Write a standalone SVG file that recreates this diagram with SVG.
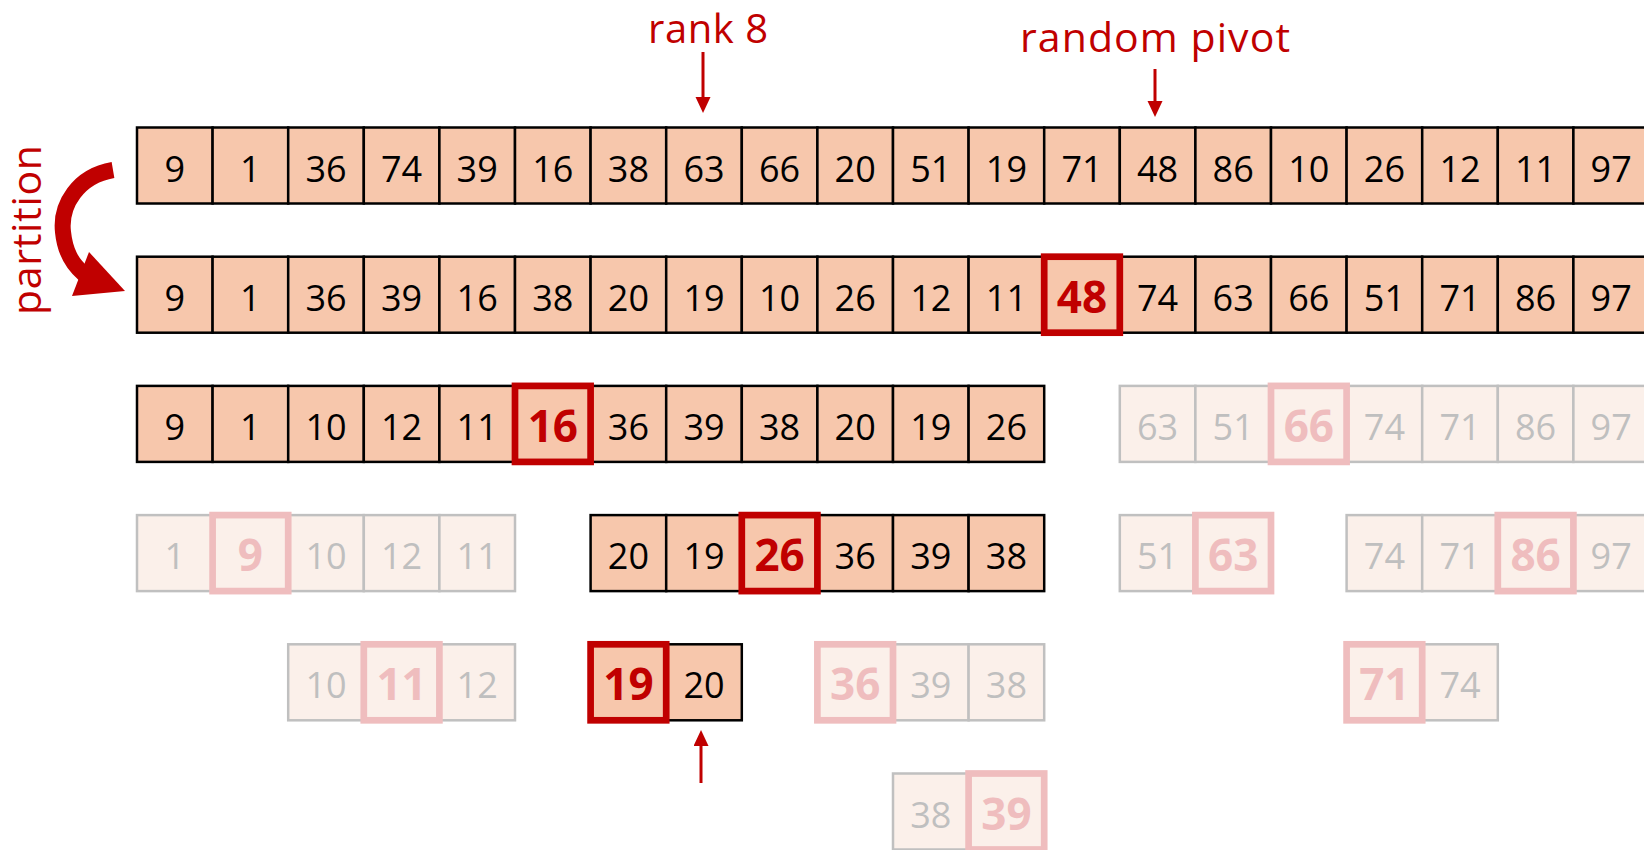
<svg xmlns="http://www.w3.org/2000/svg" width="1644" height="850" viewBox="0 0 1644 850">
<style>
.c{fill:#F7C7AC;stroke:#000;stroke-width:2.5}
.t{font-family:"Open Sans","Noto Sans",sans-serif;font-size:36px;fill:#000;text-anchor:middle}
.p{fill:none;stroke:#C00000;stroke-width:6.7}
.pt{font-family:"Open Sans","Noto Sans",sans-serif;font-size:44px;font-weight:bold;fill:#C00000;text-anchor:middle}
.fc{fill:#FBF0EA;stroke:#C0C0C0;stroke-width:2.5}
.ft{font-family:"Open Sans","Noto Sans",sans-serif;font-size:36px;fill:#BFBFBF;text-anchor:middle}
.fp{fill:none;stroke:#EFBDBE;stroke-width:6.7}
.fpt{font-family:"Open Sans","Noto Sans",sans-serif;font-size:44px;font-weight:bold;fill:#EFBDBE;text-anchor:middle}
.lab{font-family:"Open Sans","Noto Sans",sans-serif;font-size:41px;fill:#C00000}
.arr{stroke:#C00000;stroke-width:3;fill:none}
</style>
<defs>
<marker id="ah" markerWidth="16" markerHeight="16" refX="0" refY="7.5" orient="auto" markerUnits="userSpaceOnUse"><path d="M0,0 L16,7.5 L0,15 z" fill="#C00000"/></marker>
</defs>

<g id="labels">
<text class="lab" x="708" y="43" text-anchor="middle" textLength="120" lengthAdjust="spacing" style="font-size:40px">rank 8</text>
<text class="lab" x="1155" y="52" text-anchor="middle" textLength="270" lengthAdjust="spacing">random pivot</text>
<text class="lab" transform="translate(41,230) rotate(-90)" text-anchor="middle" textLength="170" lengthAdjust="spacing">partition</text>
</g>

<g id="connectors">
<line class="arr" x1="703" y1="52" x2="703" y2="97" marker-end="url(#ah)"/>
<line class="arr" x1="1155" y1="69" x2="1155" y2="101" marker-end="url(#ah)"/>
<line class="arr" x1="701" y1="783" x2="701" y2="746" marker-end="url(#ah)"/>
<path d="M113,170 C78,176 60,205 63,232 C65,252 72,264 84,274" fill="none" stroke="#C00000" stroke-width="16"/>
<polygon points="89,252 125,291 72,296" fill="#C00000"/>
</g>

<g id="row1">
<rect class="c" x="137" y="127.5" width="75.6" height="76"/><text class="t" x="174.8" y="181.5">9</text>
<rect class="c" x="212.6" y="127.5" width="75.6" height="76"/><text class="t" x="250.4" y="181.5">1</text>
<rect class="c" x="288.2" y="127.5" width="75.6" height="76"/><text class="t" x="326" y="181.5">36</text>
<rect class="c" x="363.8" y="127.5" width="75.6" height="76"/><text class="t" x="401.6" y="181.5">74</text>
<rect class="c" x="439.4" y="127.5" width="75.6" height="76"/><text class="t" x="477.2" y="181.5">39</text>
<rect class="c" x="515" y="127.5" width="75.6" height="76"/><text class="t" x="552.8" y="181.5">16</text>
<rect class="c" x="590.6" y="127.5" width="75.6" height="76"/><text class="t" x="628.4" y="181.5">38</text>
<rect class="c" x="666.2" y="127.5" width="75.6" height="76"/><text class="t" x="704" y="181.5">63</text>
<rect class="c" x="741.8" y="127.5" width="75.6" height="76"/><text class="t" x="779.6" y="181.5">66</text>
<rect class="c" x="817.4" y="127.5" width="75.6" height="76"/><text class="t" x="855.2" y="181.5">20</text>
<rect class="c" x="893" y="127.5" width="75.6" height="76"/><text class="t" x="930.8" y="181.5">51</text>
<rect class="c" x="968.6" y="127.5" width="75.6" height="76"/><text class="t" x="1006.4" y="181.5">19</text>
<rect class="c" x="1044.2" y="127.5" width="75.6" height="76"/><text class="t" x="1082" y="181.5">71</text>
<rect class="c" x="1119.8" y="127.5" width="75.6" height="76"/><text class="t" x="1157.6" y="181.5">48</text>
<rect class="c" x="1195.4" y="127.5" width="75.6" height="76"/><text class="t" x="1233.2" y="181.5">86</text>
<rect class="c" x="1271" y="127.5" width="75.6" height="76"/><text class="t" x="1308.8" y="181.5">10</text>
<rect class="c" x="1346.6" y="127.5" width="75.6" height="76"/><text class="t" x="1384.4" y="181.5">26</text>
<rect class="c" x="1422.2" y="127.5" width="75.6" height="76"/><text class="t" x="1460" y="181.5">12</text>
<rect class="c" x="1497.8" y="127.5" width="75.6" height="76"/><text class="t" x="1535.6" y="181.5">11</text>
<rect class="c" x="1573.4" y="127.5" width="75.6" height="76"/><text class="t" x="1611.2" y="181.5">97</text>
</g>

<g id="row2">
<rect class="c" x="137" y="256.7" width="75.6" height="76"/><text class="t" x="174.8" y="310.7">9</text>
<rect class="c" x="212.6" y="256.7" width="75.6" height="76"/><text class="t" x="250.4" y="310.7">1</text>
<rect class="c" x="288.2" y="256.7" width="75.6" height="76"/><text class="t" x="326" y="310.7">36</text>
<rect class="c" x="363.8" y="256.7" width="75.6" height="76"/><text class="t" x="401.6" y="310.7">39</text>
<rect class="c" x="439.4" y="256.7" width="75.6" height="76"/><text class="t" x="477.2" y="310.7">16</text>
<rect class="c" x="515" y="256.7" width="75.6" height="76"/><text class="t" x="552.8" y="310.7">38</text>
<rect class="c" x="590.6" y="256.7" width="75.6" height="76"/><text class="t" x="628.4" y="310.7">20</text>
<rect class="c" x="666.2" y="256.7" width="75.6" height="76"/><text class="t" x="704" y="310.7">19</text>
<rect class="c" x="741.8" y="256.7" width="75.6" height="76"/><text class="t" x="779.6" y="310.7">10</text>
<rect class="c" x="817.4" y="256.7" width="75.6" height="76"/><text class="t" x="855.2" y="310.7">26</text>
<rect class="c" x="893" y="256.7" width="75.6" height="76"/><text class="t" x="930.8" y="310.7">12</text>
<rect class="c" x="968.6" y="256.7" width="75.6" height="76"/><text class="t" x="1006.4" y="310.7">11</text>
<rect class="c" x="1044.2" y="256.7" width="75.6" height="76"/>
<rect class="c" x="1119.8" y="256.7" width="75.6" height="76"/><text class="t" x="1157.6" y="310.7">74</text>
<rect class="c" x="1195.4" y="256.7" width="75.6" height="76"/><text class="t" x="1233.2" y="310.7">63</text>
<rect class="c" x="1271" y="256.7" width="75.6" height="76"/><text class="t" x="1308.8" y="310.7">66</text>
<rect class="c" x="1346.6" y="256.7" width="75.6" height="76"/><text class="t" x="1384.4" y="310.7">51</text>
<rect class="c" x="1422.2" y="256.7" width="75.6" height="76"/><text class="t" x="1460" y="310.7">71</text>
<rect class="c" x="1497.8" y="256.7" width="75.6" height="76"/><text class="t" x="1535.6" y="310.7">86</text>
<rect class="c" x="1573.4" y="256.7" width="75.6" height="76"/><text class="t" x="1611.2" y="310.7">97</text>
<rect class="p" x="1044.2" y="256.7" width="75.6" height="76"/><text class="pt" x="1082" y="312.7">48</text>
</g>

<g id="row3-left">
<rect class="c" x="137" y="385.9" width="75.6" height="76"/><text class="t" x="174.8" y="439.9">9</text>
<rect class="c" x="212.6" y="385.9" width="75.6" height="76"/><text class="t" x="250.4" y="439.9">1</text>
<rect class="c" x="288.2" y="385.9" width="75.6" height="76"/><text class="t" x="326" y="439.9">10</text>
<rect class="c" x="363.8" y="385.9" width="75.6" height="76"/><text class="t" x="401.6" y="439.9">12</text>
<rect class="c" x="439.4" y="385.9" width="75.6" height="76"/><text class="t" x="477.2" y="439.9">11</text>
<rect class="c" x="515" y="385.9" width="75.6" height="76"/>
<rect class="c" x="590.6" y="385.9" width="75.6" height="76"/><text class="t" x="628.4" y="439.9">36</text>
<rect class="c" x="666.2" y="385.9" width="75.6" height="76"/><text class="t" x="704" y="439.9">39</text>
<rect class="c" x="741.8" y="385.9" width="75.6" height="76"/><text class="t" x="779.6" y="439.9">38</text>
<rect class="c" x="817.4" y="385.9" width="75.6" height="76"/><text class="t" x="855.2" y="439.9">20</text>
<rect class="c" x="893" y="385.9" width="75.6" height="76"/><text class="t" x="930.8" y="439.9">19</text>
<rect class="c" x="968.6" y="385.9" width="75.6" height="76"/><text class="t" x="1006.4" y="439.9">26</text>
<rect class="p" x="515" y="385.9" width="75.6" height="76"/><text class="pt" x="552.8" y="441.9">16</text>
</g>

<g id="row3-right">
<rect class="fc" x="1119.8" y="385.9" width="75.6" height="76"/><text class="ft" x="1157.6" y="439.9">63</text>
<rect class="fc" x="1195.4" y="385.9" width="75.6" height="76"/><text class="ft" x="1233.2" y="439.9">51</text>
<rect class="fc" x="1271" y="385.9" width="75.6" height="76"/>
<rect class="fc" x="1346.6" y="385.9" width="75.6" height="76"/><text class="ft" x="1384.4" y="439.9">74</text>
<rect class="fc" x="1422.2" y="385.9" width="75.6" height="76"/><text class="ft" x="1460" y="439.9">71</text>
<rect class="fc" x="1497.8" y="385.9" width="75.6" height="76"/><text class="ft" x="1535.6" y="439.9">86</text>
<rect class="fc" x="1573.4" y="385.9" width="75.6" height="76"/><text class="ft" x="1611.2" y="439.9">97</text>
<rect class="fp" x="1271" y="385.9" width="75.6" height="76"/><text class="fpt" x="1308.8" y="441.9">66</text>
</g>

<g id="row4-a">
<rect class="fc" x="137" y="515.1" width="75.6" height="76"/><text class="ft" x="174.8" y="569.1">1</text>
<rect class="fc" x="212.6" y="515.1" width="75.6" height="76"/>
<rect class="fc" x="288.2" y="515.1" width="75.6" height="76"/><text class="ft" x="326" y="569.1">10</text>
<rect class="fc" x="363.8" y="515.1" width="75.6" height="76"/><text class="ft" x="401.6" y="569.1">12</text>
<rect class="fc" x="439.4" y="515.1" width="75.6" height="76"/><text class="ft" x="477.2" y="569.1">11</text>
<rect class="fp" x="212.6" y="515.1" width="75.6" height="76"/><text class="fpt" x="250.4" y="571.1">9</text>
</g>

<g id="row4-b">
<rect class="c" x="590.6" y="515.1" width="75.6" height="76"/><text class="t" x="628.4" y="569.1">20</text>
<rect class="c" x="666.2" y="515.1" width="75.6" height="76"/><text class="t" x="704" y="569.1">19</text>
<rect class="c" x="741.8" y="515.1" width="75.6" height="76"/>
<rect class="c" x="817.4" y="515.1" width="75.6" height="76"/><text class="t" x="855.2" y="569.1">36</text>
<rect class="c" x="893" y="515.1" width="75.6" height="76"/><text class="t" x="930.8" y="569.1">39</text>
<rect class="c" x="968.6" y="515.1" width="75.6" height="76"/><text class="t" x="1006.4" y="569.1">38</text>
<rect class="p" x="741.8" y="515.1" width="75.6" height="76"/><text class="pt" x="779.6" y="571.1">26</text>
</g>

<g id="row4-c">
<rect class="fc" x="1119.8" y="515.1" width="75.6" height="76"/><text class="ft" x="1157.6" y="569.1">51</text>
<rect class="fc" x="1195.4" y="515.1" width="75.6" height="76"/>
<rect class="fp" x="1195.4" y="515.1" width="75.6" height="76"/><text class="fpt" x="1233.2" y="571.1">63</text>
</g>

<g id="row4-d">
<rect class="fc" x="1346.6" y="515.1" width="75.6" height="76"/><text class="ft" x="1384.4" y="569.1">74</text>
<rect class="fc" x="1422.2" y="515.1" width="75.6" height="76"/><text class="ft" x="1460" y="569.1">71</text>
<rect class="fc" x="1497.8" y="515.1" width="75.6" height="76"/>
<rect class="fc" x="1573.4" y="515.1" width="75.6" height="76"/><text class="ft" x="1611.2" y="569.1">97</text>
<rect class="fp" x="1497.8" y="515.1" width="75.6" height="76"/><text class="fpt" x="1535.6" y="571.1">86</text>
</g>

<g id="row5-a">
<rect class="fc" x="288.2" y="644.3" width="75.6" height="76"/><text class="ft" x="326" y="698.3">10</text>
<rect class="fc" x="363.8" y="644.3" width="75.6" height="76"/>
<rect class="fc" x="439.4" y="644.3" width="75.6" height="76"/><text class="ft" x="477.2" y="698.3">12</text>
<rect class="fp" x="363.8" y="644.3" width="75.6" height="76"/><text class="fpt" x="401.6" y="700.3">11</text>
</g>

<g id="row5-b">
<rect class="c" x="590.6" y="644.3" width="75.6" height="76"/>
<rect class="c" x="666.2" y="644.3" width="75.6" height="76"/><text class="t" x="704" y="698.3">20</text>
<rect class="p" x="590.6" y="644.3" width="75.6" height="76"/><text class="pt" x="628.4" y="700.3">19</text>
</g>

<g id="row5-c">
<rect class="fc" x="817.4" y="644.3" width="75.6" height="76"/>
<rect class="fc" x="893" y="644.3" width="75.6" height="76"/><text class="ft" x="930.8" y="698.3">39</text>
<rect class="fc" x="968.6" y="644.3" width="75.6" height="76"/><text class="ft" x="1006.4" y="698.3">38</text>
<rect class="fp" x="817.4" y="644.3" width="75.6" height="76"/><text class="fpt" x="855.2" y="700.3">36</text>
</g>

<g id="row5-d">
<rect class="fc" x="1346.6" y="644.3" width="75.6" height="76"/>
<rect class="fc" x="1422.2" y="644.3" width="75.6" height="76"/><text class="ft" x="1460" y="698.3">74</text>
<rect class="fp" x="1346.6" y="644.3" width="75.6" height="76"/><text class="fpt" x="1384.4" y="700.3">71</text>
</g>

<g id="row6">
<rect class="fc" x="893" y="773.5" width="75.6" height="76"/><text class="ft" x="930.8" y="827.5">38</text>
<rect class="fc" x="968.6" y="773.5" width="75.6" height="76"/>
<rect class="fp" x="968.6" y="773.5" width="75.6" height="76"/><text class="fpt" x="1006.4" y="829.5">39</text>
</g>
</svg>
